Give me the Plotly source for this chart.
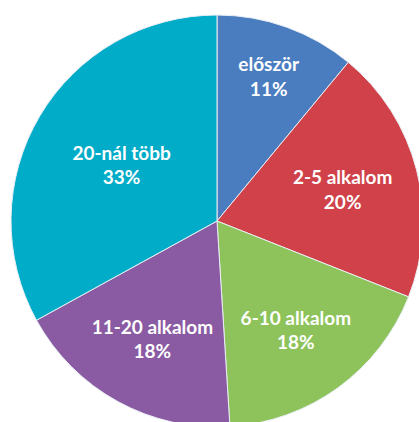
import plotly.graph_objects as go

# kategóriák és értékek
labels = ["először", "2-5 alkalom", "6-10 alkalom", "11-20 alkalom", "20-nál több"]
values = [11, 20, 18, 18, 33]
colors = ["#4A7DC0", "#D04149", "#8DC35A", "#8A5BA3", "#00ACC8"]

fig = go.Figure(go.Pie(
    labels=labels,
    values=values,
    sort=False,
    direction="clockwise",
    rotation=0,
    marker=dict(colors=colors, line=dict(color="#E8EEF4", width=1)),
    texttemplate="<b>%{label}<br>%{percent:.0%}</b>",
    textposition="inside",
    insidetextorientation="horizontal",
    textfont=dict(family="Lato, Open Sans, sans-serif", size=19, color="white"),
    hoverinfo="label+percent",
    showlegend=False,
))

# a kör kilóg jobbra és lent, mint az eredetin
fig.update_layout(
    width=430, height=430,
    margin=dict(l=11, r=7, t=15, b=3),
    paper_bgcolor="white",
)

fig.write_html(
    "out.html",
    config={"displayModeBar": False},
    post_script="document.body.style.margin='0';document.body.style.overflow='hidden';",
)
